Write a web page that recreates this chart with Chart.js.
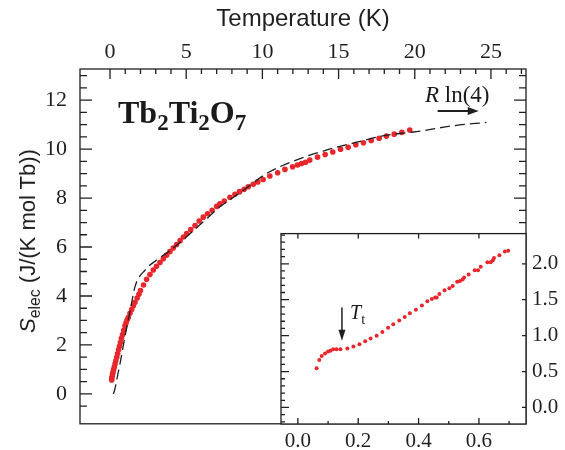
<!DOCTYPE html>
<html>
<head>
<meta charset="utf-8">
<script src="https://cdn.jsdelivr.net/npm/chart.js@4.4.1/dist/chart.umd.min.js"></script>
<style>
  html, body { margin: 0; padding: 0; background: #fff; }
  #wrap { position: relative; width: 565px; height: 450px; overflow: hidden; }
  #main { position: absolute; left: 0; top: 0; }
  #inset { position: absolute; left: 250px; top: 215px; }
  .lbl { position: absolute; white-space: nowrap; line-height: 1; color: #1a1a1a; }
  .sub { position: relative; top: 0.32em; font-size: 0.72em; }
</style>
</head>
<body>
<div id="wrap">
  <canvas id="main" width="565" height="450"></canvas>
  <canvas id="inset" width="315" height="235"></canvas>
  <div class="lbl" id="title" style="left:118px; top:94px; font: bold 32px 'Liberation Serif';">Tb<span class="sub">2</span>Ti<span class="sub">2</span>O<span class="sub">7</span></div>
  <div class="lbl" id="rln" style="left:425px; top:82px; font: 23px 'Liberation Serif';"><i>R</i> ln(4)</div>
  <div class="lbl" id="tt" style="left:350px; top:301px; font: 20px 'Liberation Serif';"><i>T</i><span class="sub">t</span></div>
  <div class="lbl" id="ylab" style="left:28px; top:241px; font: 22px 'Liberation Sans'; transform: translate(-50%, -50%) rotate(-90deg);"><i>S</i><span class="sub">elec</span> (J/(K mol Tb))</div>
</div>
<script>
  // main panel: electronic entropy vs temperature
  const xTicks = [0, 5, 10, 15, 20, 25];
  const yTicks = [0, 2, 4, 6, 8, 10, 12];

  const tempK = [0.11, 0.12, 0.14, 0.17, 0.2, 0.24, 0.28, 0.33, 0.38, 0.44, 0.5, 0.56, 0.62, 0.68, 0.75,
    0.82, 0.9, 0.98, 1.05, 1.12, 1.2, 1.31, 1.42, 1.53, 1.64, 1.78, 1.9, 2.0, 2.2, 2.4, 2.62, 2.84,
    3.05, 3.28, 3.5, 3.72, 3.93, 4.15, 4.37, 4.6, 4.82, 5.03, 5.3, 5.58, 5.85, 6.12, 6.4, 6.7, 7.0, 7.21,
    7.5, 7.87, 8.2, 8.5, 8.8, 9.07, 9.4, 9.7, 10.05, 10.49, 11.0, 11.48, 11.98, 12.3, 12.57, 12.83, 13.11,
    13.62, 14.12, 14.62, 15.13, 15.63, 16.13, 16.63, 17.14, 17.66, 18.14, 18.65, 19.15, 19.67];
  const entropy = [0.57, 0.65, 0.72, 0.82, 0.9, 1.0, 1.1, 1.22, 1.35, 1.5, 1.65, 1.8, 1.95, 2.1, 2.27,
    2.42, 2.6, 2.78, 2.9, 3.02, 3.12, 3.29, 3.45, 3.6, 3.74, 3.92, 4.07, 4.22, 4.45, 4.68, 4.88, 5.06,
    5.21, 5.37, 5.52, 5.67, 5.81, 5.96, 6.1, 6.26, 6.41, 6.55, 6.71, 6.88, 7.06, 7.22, 7.36, 7.5, 7.66, 7.76,
    7.88, 8.03, 8.15, 8.26, 8.36, 8.46, 8.56, 8.66, 8.76, 8.9, 9.03, 9.17, 9.28, 9.35, 9.41, 9.46, 9.55,
    9.67, 9.78, 9.88, 9.99, 10.07, 10.18, 10.26, 10.35, 10.44, 10.53, 10.61, 10.68, 10.78];

  // dashed model curve
  const modelT = [0.22, 0.3, 0.44, 0.66, 0.98, 1.31, 1.64, 2.3, 3.06, 3.93, 5.03, 6.12, 7.21, 8.5,
    10.27, 12, 14, 16, 18, 20.1, 22.5, 24.7];
  const modelS = [0.0, 0.15, 0.57, 1.25, 2.34, 3.36, 4.38, 5.06, 5.47, 5.85, 6.42, 7.03, 7.64, 8.2,
    9.0, 9.5, 9.92, 10.25, 10.55, 10.71, 10.95, 11.09];

  // inset: low temperature detail
  const insetXTicks = [0.0, 0.2, 0.4, 0.6];
  const insetYTicks = [0.0, 0.5, 1.0, 1.5, 2.0];
  const insetT = [0.062, 0.071, 0.079, 0.09, 0.1, 0.108, 0.117, 0.128, 0.141, 0.164, 0.184, 0.204,
    0.223, 0.241, 0.261, 0.28, 0.299, 0.316, 0.336, 0.354, 0.371, 0.391, 0.411, 0.429, 0.444, 0.455,
    0.46, 0.469, 0.486, 0.502, 0.513, 0.528, 0.537, 0.546, 0.551, 0.566, 0.586, 0.597, 0.606, 0.628,
    0.639, 0.646, 0.65, 0.668, 0.686, 0.697];
  const insetS = [0.545, 0.66, 0.716, 0.75, 0.78, 0.79, 0.81, 0.81, 0.81, 0.82, 0.85, 0.88,
    0.92, 0.96, 1.0, 1.05, 1.11, 1.16, 1.21, 1.26, 1.31, 1.36, 1.42, 1.48, 1.51, 1.53,
    1.53, 1.58, 1.63, 1.66, 1.69, 1.75, 1.76, 1.78, 1.81, 1.85, 1.91, 1.91, 1.96, 2.02,
    2.02, 2.05, 2.08, 2.12, 2.17, 2.18];

  const RED = '#e8262b';
  const INK = '#1f1f1f';

  function range(a, b, step, skip) {
    const out = [];
    for (let v = a; v <= b + 1e-9; v += step) {
      const r = Math.round(v * 1000) / 1000;
      if (!skip || !skip.some(s => Math.abs(s - r) < 1e-6)) out.push(r);
    }
    return out;
  }

  // frame, inward ticks and arrows, positioned through the chart scales
  function makeFrame(cfg) {
    return {
      id: 'frame',
      beforeDraw(chart) {
        if (!cfg.fill) return;
        const a = chart.chartArea;
        chart.ctx.save();
        chart.ctx.fillStyle = cfg.fill;
        chart.ctx.fillRect(a.left, a.top, a.right - a.left, a.bottom - a.top);
        chart.ctx.restore();
      },
      afterDraw(chart) {
        const ctx = chart.ctx;
        const a = chart.chartArea;
        const xs = chart.scales.x;
        const ys = chart.scales.y;
        ctx.save();
        ctx.strokeStyle = INK;
        ctx.lineWidth = 1.3;
        ctx.strokeRect(a.left, a.top, a.right - a.left, a.bottom - a.top);
        ctx.beginPath();
        cfg.marks.forEach(m => {
          m.values.forEach(v => {
            if (m.side === 'top' || m.side === 'bottom') {
              const p = xs.getPixelForValue(v);
              const y0 = m.side === 'top' ? a.top : a.bottom;
              const d = m.side === 'top' ? 1 : -1;
              ctx.moveTo(p, y0);
              ctx.lineTo(p, y0 + d * m.len);
            } else {
              const p = ys.getPixelForValue(v);
              const x0 = m.side === 'left' ? a.left : a.right;
              const d = m.side === 'left' ? 1 : -1;
              ctx.moveTo(x0, p);
              ctx.lineTo(x0 + d * m.len, p);
            }
          });
        });
        ctx.stroke();
        (cfg.arrows || []).forEach(ar => {
          const x1 = xs.getPixelForValue(ar.from[0]), y1 = ys.getPixelForValue(ar.from[1]);
          const x2 = xs.getPixelForValue(ar.to[0]), y2 = ys.getPixelForValue(ar.to[1]);
          const ang = Math.atan2(y2 - y1, x2 - x1);
          const hl = ar.head, hw = ar.headW / 2;
          ctx.strokeStyle = INK;
          ctx.fillStyle = INK;
          ctx.lineWidth = ar.width;
          ctx.beginPath();
          ctx.moveTo(x1, y1);
          ctx.lineTo(x2 - Math.cos(ang) * hl * 0.8, y2 - Math.sin(ang) * hl * 0.8);
          ctx.stroke();
          ctx.beginPath();
          ctx.moveTo(x2, y2);
          ctx.lineTo(x2 - Math.cos(ang) * hl - Math.sin(ang) * hw, y2 - Math.sin(ang) * hl + Math.cos(ang) * hw);
          ctx.lineTo(x2 - Math.cos(ang) * hl + Math.sin(ang) * hw, y2 - Math.sin(ang) * hl - Math.cos(ang) * hw);
          ctx.closePath();
          ctx.fill();
        });
        ctx.restore();
      }
    };
  }

  const serif = { family: "'Liberation Serif', 'Times New Roman', serif", size: 22 };

  new Chart(document.getElementById('main'), {
    type: 'scatter',
    data: {
      datasets: [
        {
          label: 'model',
          data: modelT.map((t, i) => ({ x: t, y: modelS[i] })),
          showLine: true,
          borderColor: INK,
          borderWidth: 1.3,
          borderDash: [10, 5],
          pointRadius: 0,
          fill: false,
          cubicInterpolationMode: 'monotone'
        },
        {
          label: 'S_elec',
          data: tempK.map((t, i) => ({ x: t, y: entropy[i] })),
          pointRadius: 2.8,
          pointBackgroundColor: RED,
          pointBorderWidth: 0,
          showLine: false
        }
      ]
    },
    options: {
      responsive: false,
      animation: false,
      layout: { padding: { left: 0, right: 39, top: 0, bottom: 26 } },
      plugins: { legend: { display: false }, tooltip: { enabled: false } },
      scales: {
        x: {
          type: 'linear', position: 'top', min: -1.97, max: 27.3,
          afterBuildTicks: s => { s.ticks = xTicks.map(v => ({ value: v })); },
          afterFit: s => { s.height = 69; },
          grid: { display: false, drawTicks: false }, border: { display: false },
          ticks: { font: serif, color: INK, padding: 4, maxRotation: 0, callback: v => String(v) },
          title: { display: true, text: 'Temperature (K)', color: INK,
            font: { family: "'Liberation Sans', Arial, sans-serif", size: 24 }, padding: { top: 5, bottom: 4 } }
        },
        y: {
          type: 'linear', position: 'left', min: -1.22, max: 13.27,
          afterBuildTicks: s => { s.ticks = yTicks.map(v => ({ value: v })); },
          afterFit: s => { s.width = 80; },
          grid: { display: false, drawTicks: false }, border: { display: false },
          ticks: { font: serif, color: INK, padding: 13, callback: v => String(v) }
        }
      }
    },
    plugins: [makeFrame({
      marks: [
        { side: 'top', values: xTicks, len: 10 },
        { side: 'top', values: range(1, 27, 1, xTicks), len: 5 },
        { side: 'left', values: yTicks, len: 12 },
        { side: 'left', values: range(-0.5, 13, 0.5, yTicks), len: 7 },
        { side: 'right', values: yTicks, len: 12 },
        { side: 'right', values: range(-0.5, 13, 0.5, yTicks), len: 7 }
      ],
      arrows: [{ from: [21.5, 11.55], to: [24.2, 11.55], width: 2, head: 11, headW: 8 }]
    })]
  });

  const serifSmall = { family: "'Liberation Serif', 'Times New Roman', serif", size: 21 };

  new Chart(document.getElementById('inset'), {
    type: 'scatter',
    data: {
      datasets: [{
        label: 'inset',
        data: insetT.map((t, i) => ({ x: t, y: insetS[i] })),
        pointRadius: 2,
        pointBackgroundColor: RED,
        pointBorderWidth: 0,
        showLine: false
      }]
    },
    options: {
      responsive: false,
      animation: false,
      layout: { padding: { left: 31, right: 0, top: 13, bottom: 0 } },
      plugins: { legend: { display: false }, tooltip: { enabled: false } },
      scales: {
        x: {
          type: 'linear', position: 'bottom', min: -0.056, max: 0.756,
          afterBuildTicks: s => { s.ticks = insetXTicks.map(v => ({ value: v })); },
          afterFit: s => { s.height = 26; },
          grid: { display: false, drawTicks: false }, border: { display: false },
          ticks: { font: serifSmall, color: INK, padding: 5, maxRotation: 0, callback: v => v.toFixed(1) }
        },
        y: {
          type: 'linear', position: 'right', min: -0.23, max: 2.42,
          afterBuildTicks: s => { s.ticks = insetYTicks.map(v => ({ value: v })); },
          afterFit: s => { s.width = 39; },
          grid: { display: false, drawTicks: false }, border: { display: false },
          ticks: { font: serifSmall, color: INK, padding: 6, callback: v => v.toFixed(1) }
        }
      }
    },
    plugins: [makeFrame({
      fill: '#ffffff',
      marks: [
        { side: 'bottom', values: insetXTicks, len: 6 },
        { side: 'bottom', values: [0.1, 0.3, 0.5, 0.7], len: 3 },
        { side: 'top', values: insetXTicks, len: 5 },
        { side: 'left', values: insetYTicks, len: 8 },
        { side: 'left', values: range(-0.2, 2.4, 0.1, insetYTicks), len: 4 },
        { side: 'right', values: insetYTicks, len: 4 }
      ],
      arrows: [{ from: [0.146, 1.39], to: [0.146, 0.93], width: 1.5, head: 11, headW: 7 }]
    })]
  });
</script>
</body>
</html>
